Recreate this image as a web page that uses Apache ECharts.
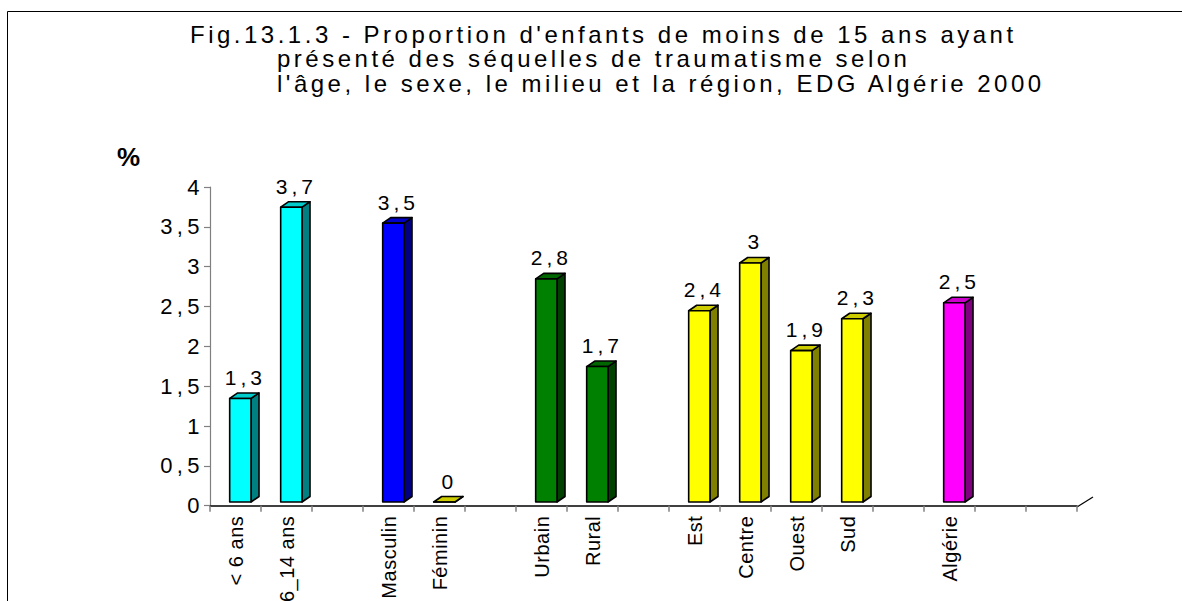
<!DOCTYPE html>
<html>
<head>
<meta charset="utf-8">
<script src="https://cdn.jsdelivr.net/npm/echarts@6/dist/echarts.min.js"></script>
<style>
  html, body { margin: 0; padding: 0; background: #ffffff; }
  #chart { width: 1182px; height: 601px; }
  /* expanded character spacing for horizontal texts */
  #chart text { letter-spacing: 4px; }
  #chart text[style*="24px"] { letter-spacing: 3.5px; }
  #chart text[style*="22px"] { letter-spacing: 4.4px; }
  #chart text[style*="20px"] { letter-spacing: 0.5px; }
</style>
</head>
<body>
<div id="chart"></div>
<script>
// Title lines
const titleLines = [
  "Fig.13.1.3 - Proportion d'enfants de moins de 15 ans ayant",
  "présenté des séquelles de traumatisme selon",
  "l'âge, le sexe, le milieu et la région, EDG Algérie 2000"
];
const unitLabel = '%';

// Category slots along the x axis (empty strings are spacer slots)
const categories = ['< 6 ans', '6_14 ans', '', 'Masculin', 'Féminin', '', 'Urbain', 'Rural', '',
                    'Est', 'Centre', 'Ouest', 'Sud', '', 'Algérie', '', ''];
// Percent values per slot (null = no bar)
const values = [1.3, 3.7, null, 3.5, 0, null, 2.8, 1.7, null, 2.4, 3, 1.9, 2.3, null, 2.5, null, null];
// Colour group per slot
const groups = ['age', 'age', null, 'sexe', 'nul', null, 'milieu', 'milieu', null,
                'region', 'region', 'region', 'region', null, 'total', null, null];

// Y axis range and step
const yMin = 0, yMax = 4, yStep = 0.5;

const palette = {
  age:    { front: '#00FFFF', side: '#008080', top: '#00CCCC' },
  sexe:   { front: '#0000FF', side: '#000080', top: '#0000CC' },
  nul:    { front: '#FFFF00', side: '#808000', top: '#CCCC00' },
  milieu: { front: '#008000', side: '#004000', top: '#006600' },
  region: { front: '#FFFF00', side: '#808000', top: '#CCCC00' },
  total:  { front: '#FF00FF', side: '#800080', top: '#CC00CC' }
};

const fmt = v => String(v).replace('.', ',');
const FONT = '"Liberation Sans", Arial, sans-serif';
const G = { left: 210, right: 105, top: 187, bottom: 94 };
const W = 1182, H = 601;

const barData = [];
values.forEach((v, i) => { if (v !== null) barData.push({ value: [i, v], group: groups[i] }); });

function renderBar(params, api) {
  const item = barData[params.dataIndex];
  const col = palette[item.group];
  const idx = api.value(0), v = api.value(1);
  const base = api.coord([idx, 0]);
  const top = api.coord([idx, v]);
  const band = api.size([1, 0])[0];
  const lift = 3.7;
  const x0 = base[0] - band * 0.114;
  const w = band * 0.418;
  const dx = band * 0.157, dy = 5.5;
  const yb = base[1] - lift, yt = top[1] - lift;
  const line = { stroke: '#000', lineWidth: 1.6, lineJoin: 'round' };
  return {
    type: 'group',
    children: [
      { type: 'polygon', shape: { points: [[x0 + w, yb], [x0 + w + dx, yb - dy], [x0 + w + dx, yt - dy], [x0 + w, yt]] },
        style: Object.assign({ fill: col.side }, line) },
      { type: 'polygon', shape: { points: [[x0, yt], [x0 + dx, yt - dy], [x0 + w + dx, yt - dy], [x0 + w, yt]] },
        style: Object.assign({ fill: col.top }, line) },
      { type: 'rect', shape: { x: x0, y: yt, width: w, height: yb - yt },
        style: Object.assign({ fill: col.front }, line) },
      { type: 'text', x: x0 + (w + dx) / 2 + 1, y: yt - dy - 5,
        style: { text: fmt(v), fill: '#000', font: '21px ' + FONT, textAlign: 'center', textVerticalAlign: 'bottom' } }
    ]
  };
}

const chart = echarts.init(document.getElementById('chart'), null, { renderer: 'svg' });
chart.setOption({
  animation: false,
  backgroundColor: '#ffffff',
  grid: { left: G.left, right: G.right, top: G.top, bottom: G.bottom, containLabel: false },
  xAxis: {
    type: 'category',
    data: categories.map((_, i) => String(i)),
    boundaryGap: true,
    axisLine: { lineStyle: { color: '#000', width: 1.5 } },
    axisTick: { show: true, length: 6, lineStyle: { color: '#808080', width: 1.5 } },
    axisLabel: {
      interval: 0, rotate: 90, margin: 10, color: '#000', fontSize: 20, fontFamily: FONT,
      formatter: (val, i) => categories[i]
    },
    splitLine: { show: false }
  },
  yAxis: {
    type: 'value', min: yMin, max: yMax, interval: yStep,
    axisLine: { show: true, lineStyle: { color: '#808080', width: 1.2 } },
    axisTick: { show: true, length: 6, lineStyle: { color: '#808080', width: 1.2 } },
    axisLabel: { margin: 6, color: '#000', fontSize: 22, fontFamily: FONT, formatter: v => fmt(v) },
    splitLine: { show: false }
  },
  series: [{
    type: 'custom',
    renderItem: renderBar,
    clip: false,
    encode: { x: 0, y: 1 },
    data: barData.map(d => d.value),
    z: 5
  }],
  graphic: [
    // frame
    { type: 'line', shape: { x1: 7.5, y1: 11.5, x2: W, y2: 11.5 }, style: { stroke: '#000', lineWidth: 1 } },
    { type: 'line', shape: { x1: 7.5, y1: 11.5, x2: 7.5, y2: H }, style: { stroke: '#000', lineWidth: 1 } },
    // floor edge at the right end of the category axis
    { type: 'line', shape: { x1: W - G.right, y1: H - G.bottom, x2: W - G.right + 16, y2: H - G.bottom - 10 },
      style: { stroke: '#000', lineWidth: 1.2 } },
    // title
    { type: 'text', x: 190, y: 34, style: { text: titleLines[0], fill: '#000', font: '24px ' + FONT, textAlign: 'left', textVerticalAlign: 'middle' } },
    { type: 'text', x: 277, y: 58.5, style: { text: titleLines[1], fill: '#000', font: '24px ' + FONT, textAlign: 'left', textVerticalAlign: 'middle' } },
    { type: 'text', x: 277, y: 83, style: { text: titleLines[2], fill: '#000', font: '24px ' + FONT, textAlign: 'left', textVerticalAlign: 'middle' } },
    // unit
    { type: 'text', x: 117, y: 157, style: { text: unitLabel, fill: '#000', font: 'bold 26px ' + FONT, textAlign: 'left', textVerticalAlign: 'middle' } }
  ]
});
</script>
</body>
</html>
